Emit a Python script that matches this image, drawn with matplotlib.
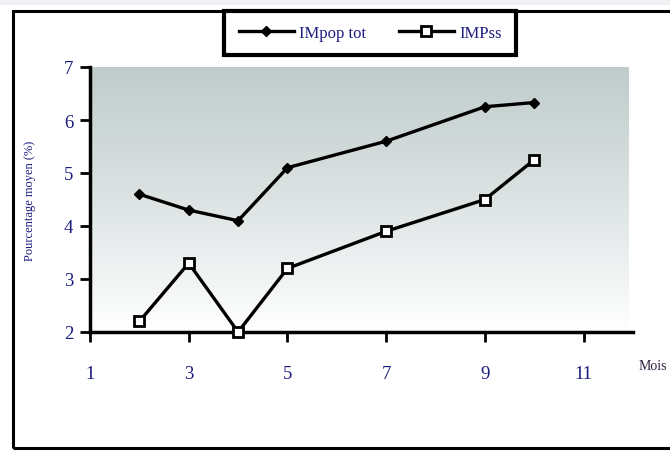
import numpy as np
import matplotlib
matplotlib.use("Agg")
import matplotlib.pyplot as plt
from matplotlib.patches import Rectangle
from matplotlib.colors import LinearSegmentedColormap

# data
mois = [2, 3, 4, 5, 7, 9, 10]
im_pop_tot = [4.6, 4.3, 4.1, 5.1, 5.6, 6.25, 6.33]
im_pss = [2.2, 3.3, 2.0, 3.2, 3.9, 4.5, 5.25]
x_ticks = [1, 3, 5, 7, 9, 11]
y_ticks = [2, 3, 4, 5, 6, 7]

serif = ["Liberation Serif", "DejaVu Serif"]
navy = "#1c1c80"

fig = plt.figure(figsize=(6.7, 4.52), dpi=100)
fig.patch.set_facecolor("white")

# outer frame + thin grey strip at top
fig.patches.append(Rectangle((0, 1 - 6 / 452), 1, 6 / 452, transform=fig.transFigure,
                             facecolor="#eef0f4", edgecolor="none", zorder=0))
fig.patches.append(Rectangle((13 / 670, 3 / 452), 1.2, 437 / 452, transform=fig.transFigure,
                             facecolor="none", edgecolor="black", linewidth=2.2, zorder=1))

ax = fig.add_axes([90 / 670, 1 - 333 / 452, 543 / 670, 265 / 452])

# grey-to-white gradient background
cmap = LinearSegmentedColormap.from_list("bg", ["#bfcccb", "#dde3e3", "#ffffff"])
grad = np.linspace(0, 1, 256).reshape(-1, 1)
ax.imshow(grad, cmap=cmap, aspect="auto", extent=[1, 11.9, 2, 7], origin="upper", zorder=0)

ax.plot(mois, im_pop_tot, color="black", lw=2.4, marker="D", markersize=5,
        markerfacecolor="black", markeredgecolor="black", label="IMpop tot", zorder=3)
ax.plot(mois, im_pss, color="black", lw=2.4, marker="s", markersize=6.5,
        markerfacecolor="white", markeredgecolor="black", markeredgewidth=2,
        label="IMPss", zorder=3, clip_on=False)

ax.set_xlim(1, 12)
ax.set_ylim(2, 7)
ax.set_xticks(x_ticks)
ax.set_yticks(y_ticks)

for s in ["top", "right"]:
    ax.spines[s].set_visible(False)
for s in ["left", "bottom"]:
    ax.spines[s].set_linewidth(2.5)

ax.tick_params(axis="both", direction="out", width=2, length=7, colors="black",
               labelcolor=navy, labelsize=13.5)
ax.tick_params(axis="x", pad=17)
ax.tick_params(axis="y", pad=5)
for lab in ax.get_xticklabels() + ax.get_yticklabels():
    lab.set_family(serif)

ax.set_ylabel("Pourcentage moyen (%)", fontsize=9, family=serif, color=navy,
              labelpad=20)
fig.text(639 / 670, 1 - 366 / 452, "Mois", fontsize=10, family=serif,
         color="#302040", ha="left", va="center")

leg = fig.legend(loc="center", bbox_to_anchor=(370 / 670, 1 - 34 / 452), ncol=2,
                 frameon=True, fancybox=False, edgecolor="black", framealpha=1,
                 prop={"family": serif, "size": 12}, handlelength=3.3,
                 handletextpad=0.3, columnspacing=2.0, borderpad=0.85,
                 borderaxespad=0)
leg.get_frame().set_linewidth(3)
for t in leg.get_texts():
    t.set_color(navy)

fig.savefig("out.png", dpi=100)
